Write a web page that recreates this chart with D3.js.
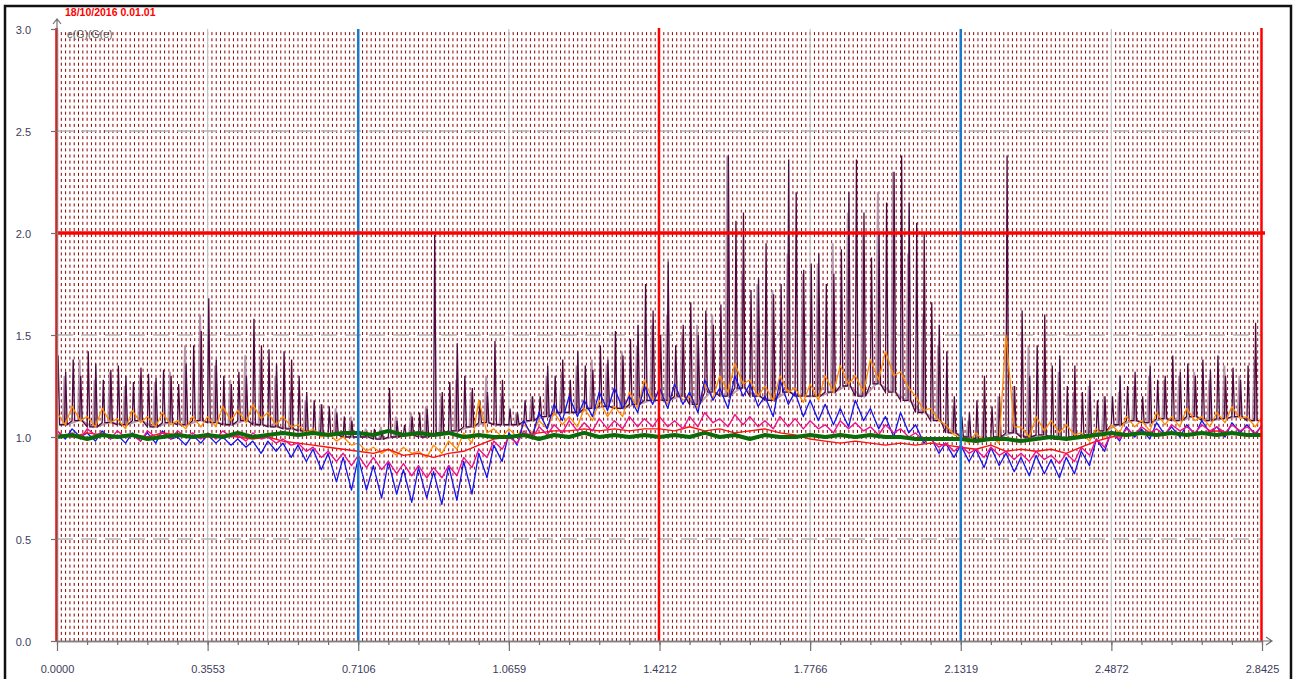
<!DOCTYPE html>
<html>
<head>
<meta charset="utf-8">
<script src="https://cdn.jsdelivr.net/npm/d3@7"></script>
<style>
body { margin: 0; background: #fff; }
svg { display: block; font-family: "Liberation Sans", Arial, sans-serif; }
</style>
</head>
<body>
<div id="chart"></div>
<script>
// axis / reference values
var X_MAX = 2.8425;
var xTicks = [0, 0.3553, 0.7106, 1.0659, 1.4212, 1.7766, 2.1319, 2.4872, 2.8425];
var yTicks = [0, 0.5, 1.0, 1.5, 2.0, 2.5, 3.0];
var redX = [0, 1.4212, 2.8425];
var blueX = [0.7106, 2.1319];
var grayX = [0.3553, 1.0659, 1.7766, 2.4872];
var grayY = [0.5, 1.5, 2.5];
var limitY = 2.0;

// dark purple spikes, one per cycle (160 cycles)
var purplePeak = [
  1.40,1.32,1.38,1.30,1.42,1.36,1.28,1.33,1.35,1.30,1.27,1.34,1.31,1.29,1.33,1.30,1.26,1.36,1.45,1.52,
  1.68,1.38,1.30,1.26,1.32,1.30,1.58,1.45,1.43,1.36,1.42,1.38,1.30,1.22,1.18,1.16,1.15,1.12,1.10,1.08,
  1.03,1.02,1.04,1.03,1.24,1.08,1.06,1.10,1.12,1.14,1.99,1.22,1.27,1.46,1.30,1.24,1.18,1.22,1.47,1.28,
  1.14,1.12,1.18,1.20,1.20,1.35,1.30,1.38,1.28,1.42,1.35,1.33,1.45,1.38,1.52,1.40,1.48,1.55,1.75,1.62,
  1.50,1.86,1.45,1.55,1.66,1.50,1.62,1.55,1.65,2.38,2.06,2.10,1.72,1.78,1.95,1.70,1.75,2.36,2.20,1.82,
  1.85,1.90,1.75,1.80,1.92,2.20,2.36,2.10,1.88,2.00,2.15,2.30,2.38,2.15,2.05,2.00,1.66,1.55,1.42,1.20,
  1.10,1.12,1.18,1.30,1.15,1.20,2.38,1.25,1.62,1.30,1.45,1.60,1.35,1.40,1.25,1.35,1.22,1.28,1.18,1.20,
  1.20,1.30,1.25,1.32,1.20,1.35,1.28,1.30,1.40,1.32,1.36,1.30,1.38,1.33,1.40,1.30,1.34,1.28,1.35,1.56
];
// spike base level, one per two cycles (80)
var spikeBase = [
  1.06,1.08,1.05,1.07,1.06,1.08,1.05,1.07,1.06,1.08,
  1.07,1.06,1.08,1.06,1.05,1.04,1.03,1.02,1.01,1.00,
  1.00,0.99,1.00,1.01,1.00,1.02,1.03,1.05,1.07,1.06,
  1.06,1.08,1.10,1.12,1.12,1.14,1.15,1.14,1.16,1.18,
  1.18,1.20,1.16,1.22,1.20,1.24,1.20,1.18,1.22,1.20,
  1.20,1.22,1.25,1.20,1.26,1.22,1.18,1.12,1.08,1.02,
  1.00,0.99,1.00,1.02,1.00,1.01,0.99,1.00,1.01,1.03,
  1.06,1.08,1.07,1.09,1.08,1.10,1.08,1.09,1.10,1.08
];
// light mauve spikes (80)
var mauvePeak = [
  1.30,1.38,1.28,1.32,1.25,1.30,1.27,1.32,1.45,1.60,
  1.35,1.28,1.40,1.38,1.30,1.22,1.18,1.16,1.14,1.10,
  1.04,1.05,1.10,1.12,1.15,1.20,1.28,1.22,1.30,1.20,
  1.12,1.20,1.30,1.32,1.35,1.38,1.36,1.42,1.45,1.55,
  1.60,1.50,1.55,1.60,2.38,1.80,1.75,1.72,1.90,1.80,
  1.85,1.95,2.10,2.00,2.20,2.30,1.90,1.60,1.45,1.15,
  1.08,1.12,1.20,1.25,1.45,1.30,1.32,1.22,1.25,1.20,
  1.22,1.25,1.30,1.28,1.30,1.32,1.28,1.35,1.30,1.38
];
// banded series: upper and lower edge of each sawtooth (80 samples)
var orangeHigh = [
  1.12,1.15,1.10,1.14,1.09,1.13,1.10,1.12,1.08,1.10,
  1.10,1.15,1.13,1.16,1.12,1.10,1.06,1.04,1.02,1.00,
  0.97,0.95,0.94,0.95,0.93,0.96,0.98,1.02,1.18,1.04,
  1.04,1.06,1.08,1.12,1.10,1.14,1.18,1.15,1.22,1.28,
  1.22,1.25,1.20,1.26,1.30,1.36,1.28,1.25,1.30,1.24,
  1.26,1.30,1.35,1.30,1.38,1.42,1.32,1.20,1.14,1.06,
  1.00,1.02,1.00,1.50,1.05,1.10,1.08,1.06,1.02,1.04,
  1.06,1.10,1.08,1.12,1.10,1.14,1.10,1.12,1.15,1.10
];
var orangeLow = [
  1.06,1.08,1.05,1.07,1.04,1.07,1.05,1.06,1.04,1.05,
  1.05,1.08,1.07,1.09,1.06,1.05,1.02,1.00,0.98,0.96,
  0.93,0.92,0.91,0.92,0.90,0.92,0.94,0.97,1.02,1.00,
  1.00,1.02,1.04,1.06,1.05,1.08,1.10,1.10,1.14,1.18,
  1.16,1.18,1.14,1.19,1.22,1.26,1.20,1.18,1.22,1.17,
  1.18,1.22,1.26,1.22,1.28,1.30,1.24,1.13,1.08,1.01,
  0.97,0.98,0.97,1.05,1.00,1.03,1.02,1.01,0.98,1.00,
  1.02,1.05,1.03,1.06,1.05,1.08,1.05,1.07,1.09,1.05
];
var blueHigh = [
  1.03,1.04,1.02,1.03,1.01,1.02,1.02,1.03,1.00,1.01,
  1.01,1.00,0.99,0.98,0.98,0.97,0.96,0.94,0.92,0.90,
  0.90,0.86,0.88,0.84,0.85,0.83,0.86,0.88,0.92,0.96,
  1.02,1.08,1.12,1.16,1.20,1.18,1.22,1.24,1.20,1.25,
  1.24,1.26,1.22,1.28,1.24,1.30,1.26,1.20,1.28,1.22,
  1.18,1.16,1.14,1.18,1.14,1.10,1.12,1.06,1.00,0.97,
  0.96,0.94,0.95,0.92,0.90,0.91,0.89,0.90,0.93,0.99,
  1.03,1.05,1.04,1.07,1.05,1.06,1.08,1.05,1.07,1.06
];
var blueLow = [
  0.99,1.00,0.98,0.99,0.97,0.98,0.97,0.99,0.96,0.97,
  0.97,0.96,0.95,0.92,0.93,0.90,0.88,0.84,0.78,0.74,
  0.74,0.70,0.72,0.68,0.70,0.67,0.69,0.72,0.80,0.88,
  0.96,1.00,1.04,1.08,1.10,1.10,1.13,1.14,1.12,1.16,
  1.14,1.16,1.12,1.18,1.14,1.20,1.15,1.10,1.16,1.10,
  1.08,1.06,1.05,1.08,1.04,1.00,1.02,0.97,0.92,0.90,
  0.88,0.85,0.86,0.83,0.81,0.82,0.80,0.82,0.86,0.93,
  0.98,1.00,0.99,1.01,1.00,1.01,1.02,1.00,1.02,1.01
];
var pinkHigh = [
  1.03,1.02,1.04,1.02,1.03,1.01,1.03,1.02,1.03,1.02,
  1.02,1.03,1.01,1.02,1.00,0.99,0.97,0.95,0.93,0.92,
  0.91,0.90,0.88,0.87,0.86,0.85,0.86,0.90,0.94,0.98,
  1.00,1.03,1.05,1.06,1.08,1.07,1.09,1.08,1.10,1.09,
  1.10,1.08,1.10,1.12,1.09,1.11,1.10,1.08,1.10,1.09,
  1.08,1.06,1.08,1.07,1.05,1.06,1.04,1.02,0.99,0.97,
  0.96,0.94,0.95,0.93,0.92,0.93,0.91,0.92,0.95,0.99,
  1.02,1.04,1.05,1.04,1.06,1.05,1.06,1.05,1.06,1.05
];
var pinkLow = [
  1.00,0.99,1.01,0.99,1.00,0.98,1.00,0.99,1.00,0.99,
  0.99,1.00,0.98,0.99,0.97,0.96,0.93,0.90,0.88,0.86,
  0.85,0.84,0.82,0.81,0.80,0.80,0.81,0.85,0.90,0.94,
  0.97,0.99,1.01,1.02,1.03,1.03,1.04,1.04,1.05,1.05,
  1.05,1.04,1.05,1.07,1.05,1.06,1.05,1.04,1.05,1.04,
  1.04,1.02,1.04,1.03,1.01,1.02,1.00,0.98,0.95,0.93,
  0.92,0.90,0.91,0.89,0.88,0.89,0.87,0.88,0.91,0.95,
  0.99,1.01,1.02,1.01,1.03,1.02,1.03,1.02,1.03,1.02
];
var red = [
  1.01,1.00,1.02,1.01,1.00,1.01,1.00,1.02,1.01,1.00,
  1.00,1.01,1.00,0.99,1.00,0.98,0.97,0.96,0.95,0.94,
  0.93,0.92,0.94,0.91,0.92,0.90,0.92,0.93,0.96,0.99,
  1.00,1.01,1.02,1.03,1.03,1.04,1.03,1.04,1.03,1.04,
  1.04,1.03,1.05,1.03,1.04,1.02,1.03,1.04,1.02,1.01,
  0.99,0.98,0.97,0.98,0.97,0.96,0.97,0.96,0.97,0.96,
  0.95,0.94,0.96,0.93,0.94,0.93,0.94,0.92,0.95,0.98,
  1.00,1.01,1.02,1.01,1.02,1.01,1.02,1.03,1.02,1.01
];
var green = [
  1.00,1.01,0.99,1.01,1.00,1.01,0.99,1.00,1.01,1.00,
  1.01,1.00,1.02,1.00,1.01,1.02,1.01,1.02,1.01,1.02,
  1.02,1.01,1.03,1.01,1.02,1.01,1.02,1.00,1.01,1.00,
  1.00,1.01,0.99,1.01,1.00,1.02,1.00,1.01,1.00,1.01,
  1.00,1.01,1.00,1.02,1.00,1.01,0.99,1.01,1.00,1.00,
  1.01,1.00,1.01,1.00,1.01,1.00,1.00,0.99,0.99,0.99,
  0.99,0.98,0.99,0.99,0.98,0.99,1.00,0.99,1.00,1.01,
  1.02,1.01,1.02,1.01,1.02,1.01,1.02,1.01,1.02,1.01
];

var W = 1297, H = 679;
var x = d3.scaleLinear().domain([0, X_MAX]).range([57, 1262]);
var y = d3.scaleLinear().domain([0, 3]).range([641, 29]);

var svg = d3.select("#chart").append("svg")
    .attr("width", W).attr("height", H);

svg.append("rect").attr("x", 0).attr("y", 0).attr("width", W).attr("height", H).attr("fill", "#fff");
// outer frame
svg.append("rect").attr("x", 5).attr("y", 6).attr("width", 1286).attr("height", 690)
    .attr("fill", "none").attr("stroke", "#111").attr("stroke-width", 2.5);

// dense dotted grid
var gridX = d3.range(1, 280).map(function(k){ return k * X_MAX / 280; });
svg.append("g").selectAll("line").data(gridX).enter().append("line")
    .attr("x1", function(d){ return x(d); }).attr("x2", function(d){ return x(d); })
    .attr("y1", y(0)).attr("y2", y(3))
    .attr("stroke", "#8b0000").attr("stroke-width", 1)
    .attr("stroke-dasharray", "3,3.12");

// gray reference lines
svg.append("g").selectAll("line").data(grayX).enter().append("line")
    .attr("x1", function(d){ return x(d); }).attr("x2", function(d){ return x(d); })
    .attr("y1", y(0)).attr("y2", y(3))
    .attr("stroke", "#c4c4c4").attr("stroke-width", 1.2);
svg.append("g").selectAll("line").data(grayY).enter().append("line")
    .attr("x1", x(0)).attr("x2", x(X_MAX))
    .attr("y1", function(d){ return y(d); }).attr("y2", function(d){ return y(d); })
    .attr("stroke", "#b5b5b5").attr("stroke-width", 1.5)
    .attr("stroke-dasharray", "16,8");

// ---- data ----
var pStep = X_MAX / 160;
var spikePts = [];
purplePeak.forEach(function(p, i){
  var b = spikeBase[Math.floor(i / 2)];
  spikePts.push([i * pStep, b]);
  spikePts.push([i * pStep + pStep * 0.15, p]);
  spikePts.push([i * pStep + pStep * 0.35, b]);
});
spikePts.push([X_MAX, spikeBase[79]]);

var bStep = X_MAX / 80;
var mauvePts = [];
mauvePeak.forEach(function(p, j){
  var b = spikeBase[j];
  var x0 = (j + 0.5) * bStep;
  mauvePts.push([x0 - bStep * 0.12, b]);
  mauvePts.push([x0, p]);
  mauvePts.push([x0 + bStep * 0.12, b]);
});

var line = d3.line().x(function(d){ return x(d[0]); }).y(function(d){ return y(d[1]); });
function band(hi, lo){
  var pts = [];
  hi.forEach(function(v, j){
    pts.push([j * bStep, v]);
    pts.push([(j + 0.55) * bStep, lo[j]]);
  });
  pts.push([X_MAX, hi[hi.length - 1]]);
  return pts;
}
function plain(arr){
  var pts = arr.map(function(v, j){ return [j * bStep, v]; });
  pts.push([X_MAX, arr[arr.length - 1]]);
  return pts;
}

svg.append("path").datum(mauvePts).attr("d", line)
    .attr("fill", "none").attr("stroke", "#a4809c").attr("stroke-width", 2).attr("opacity", 0.75);
svg.append("path").datum(spikePts).attr("d", line)
    .attr("fill", "none").attr("stroke", "#4e0a3e").attr("stroke-width", 1.3);

var series = [
  {pts: band(orangeHigh, orangeLow), color: "#ff8c00", w: 1.3},
  {pts: band(blueHigh, blueLow), color: "#1414f0", w: 1.3},
  {pts: plain(red), color: "#ff1010", w: 1.4},
  {pts: band(pinkHigh, pinkLow), color: "#f0148c", w: 1.4},
  {pts: plain(green), color: "#0b6b0b", w: 4}
];
series.forEach(function(s){
  svg.append("path").datum(s.pts).attr("d", line)
      .attr("fill", "none").attr("stroke", s.color).attr("stroke-width", s.w)
      .attr("stroke-linejoin", "round");
});

// coloured reference lines on top
svg.append("g").selectAll("line").data(blueX).enter().append("line")
    .attr("x1", function(d){ return x(d); }).attr("x2", function(d){ return x(d); })
    .attr("y1", y(0)).attr("y2", y(3))
    .attr("stroke", "#1c78c8").attr("stroke-width", 2.5);
svg.append("line")
    .attr("x1", x(0)).attr("x2", x(X_MAX) + 3)
    .attr("y1", y(limitY)).attr("y2", y(limitY))
    .attr("stroke", "#ff0000").attr("stroke-width", 3.5);
svg.append("g").selectAll("line").data(redX).enter().append("line")
    .attr("x1", function(d){ return x(d) - 0.5; }).attr("x2", function(d){ return x(d) - 0.5; })
    .attr("y1", y(0)).attr("y2", y(3) - 1)
    .attr("stroke", "#ff0000").attr("stroke-width", 2.5);

// ---- axes ----
svg.append("g").attr("transform", "translate(0," + y(0) + ")")
    .call(d3.axisBottom(x).tickValues(xTicks).tickSize(10).tickSizeOuter(0).tickPadding(14)
      .tickFormat(d3.format(".4f")));
var minor = d3.range(0, 41).map(function(k){ return k * X_MAX / 40; });
svg.append("g").attr("transform", "translate(0," + y(0) + ")")
    .call(d3.axisBottom(x).tickValues(minor).tickSize(4).tickSizeOuter(0).tickFormat(""));
var yAxis = svg.append("g").attr("transform", "translate(" + x(0) + ",0)")
    .call(d3.axisLeft(y).tickValues(yTicks).tickSize(6).tickSizeOuter(0).tickPadding(20)
      .tickFormat(d3.format(".1f")));

svg.selectAll(".domain").attr("stroke", "#808080").attr("stroke-width", 1.5);
svg.selectAll(".tick line").attr("stroke", "#707070").attr("stroke-width", 1.2);
svg.selectAll(".tick text").attr("fill", "#3c3c5c").attr("font-size", "11px")
    .attr("font-family", "Liberation Sans, Arial, sans-serif");
yAxis.selectAll(".tick text").attr("dy", "0.4em");

// axis arrows
svg.append("path")
    .attr("d", "M" + x(X_MAX) + "," + y(0) + "H" + (x(X_MAX) + 10) +
      "M" + (x(X_MAX) + 4) + "," + (y(0) - 4) + "L" + (x(X_MAX) + 10) + "," + y(0) + "L" + (x(X_MAX) + 4) + "," + (y(0) + 4))
    .attr("fill", "none").attr("stroke", "#707070").attr("stroke-width", 1.2);
svg.append("path")
    .attr("d", "M" + x(0) + "," + y(3) + "V" + (y(3) - 10) +
      "M" + (x(0) - 4) + "," + (y(3) - 5) + "L" + x(0) + "," + (y(3) - 10) + "L" + (x(0) + 4) + "," + (y(3) - 5))
    .attr("fill", "none").attr("stroke", "#707070").attr("stroke-width", 1.2);

// title and legend text
svg.append("text").attr("x", 65).attr("y", 16)
    .attr("fill", "#ff0000").attr("font-size", "10.5px").attr("font-weight", "bold")
    .text("18/10/2016 0.01.01");
svg.append("text").attr("x", 67).attr("y", 38)
    .attr("fill", "#5a5a5a").attr("font-size", "10.5px")
    .text("e(G)(G(e)");
</script>
</body>
</html>
